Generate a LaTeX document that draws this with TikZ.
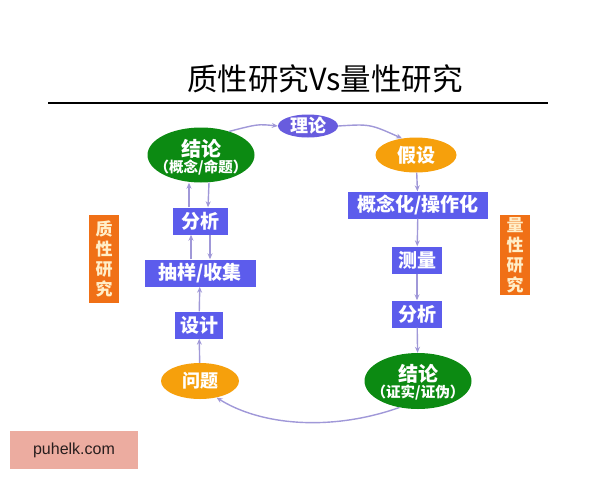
\documentclass[tikz,border=0pt]{standalone}
\usepackage{fontspec}
\newfontfamily\cjk{Noto Sans CJK SC}
\setsansfont{Liberation Sans}
\usetikzlibrary{shapes.geometric,arrows.meta}

\definecolor{conclgreen}{RGB}{12,138,18}
\definecolor{theorypurple}{RGB}{104,92,222}
\definecolor{stepblue}{RGB}{92,92,236}
\definecolor{askorange}{RGB}{246,160,12}
\definecolor{tagorange}{RGB}{240,112,22}
\definecolor{flowline}{RGB}{160,152,216}
\definecolor{marksalmon}{RGB}{236,172,160}

\tikzset{
    flow/.style={draw=flowline, line width=1.4pt, -{Stealth[length=6pt,width=5pt]}},
    stepbox/.style={rectangle, fill=stepblue, text=white, font=\cjk\bfseries\fontsize{19}{22}\selectfont,
        minimum height=27pt, inner xsep=3pt, inner ysep=0pt},
    oval/.style={ellipse, inner sep=0pt, text=white, align=center},
    ovaltext/.style={text=white, align=center, inner sep=0pt},
    tagbox/.style={rectangle, fill=tagorange, text={rgb,255:red,255;green,238;blue,200},
        font=\cjk\bfseries\fontsize{17}{20}\selectfont, align=center, minimum width=30pt, inner sep=0pt}
}

\begin{document}
\begin{tikzpicture}[x=1pt,y=-1pt]
    \useasboundingbox (0,0) rectangle (600,480);

    % Title and rule
    \node (title) at (325,79) {\cjk\fontsize{30.5}{34}\selectfont 质性研究Vs量性研究};
    \draw[line width=1.5pt] (48,103) -- (548,103);

    % Left side (qualitative)
    \node[oval, fill=conclgreen, minimum width=107pt, minimum height=55pt] (concL) at (201,155) {};
    \node[ovaltext] (concLtext) at (201,157)
        {{\cjk\bfseries\fontsize{20}{21}\selectfont 结论}\\{\cjk\bfseries\fontsize{14.5}{16}\selectfont （概念/命题）}};
    \node[stepbox, minimum width=55pt] (anaL) at (200,221) {分析};
    \node[stepbox, minimum width=111pt] (sample) at (200,273) {抽样/收集};
    \node[stepbox, minimum width=48pt] (design) at (199,325) {设计};
    \node[oval, fill=askorange, minimum width=78pt, minimum height=36pt,
        font=\cjk\bfseries\fontsize{18}{20}\selectfont] (ask) at (200,381) {问题};

    % Top
    \node[oval, fill=theorypurple, minimum width=60pt, minimum height=23pt,
        font=\cjk\bfseries\fontsize{18}{20}\selectfont] (theory) at (308,126) {};
    \node[ovaltext, font=\cjk\bfseries\fontsize{18}{20}\selectfont] (theorytext) at (308,126) {理论};

    % Right side (quantitative)
    \node[oval, fill=askorange, minimum width=81pt, minimum height=35pt,
        font=\cjk\bfseries\fontsize{19}{21}\selectfont] (hypo) at (416,155) {假设};
    \node[stepbox, minimum width=140pt] (operate) at (418,205) {概念化/操作化};
    \node[stepbox, minimum width=50pt] (measure) at (417,260) {测量};
    \node[stepbox, minimum width=50pt] (anaR) at (417,314) {分析};
    \node[oval, fill=conclgreen, minimum width=107pt, minimum height=56pt] (concR) at (418,381) {};
    \node[ovaltext] (concRtext) at (418,382)
        {{\cjk\bfseries\fontsize{20}{21}\selectfont 结论}\\{\cjk\bfseries\fontsize{14.5}{16}\selectfont （证实/证伪）}};

    % Side tags
    \node[tagbox, minimum height=88pt] (tagL) at (104,259) {质\\性\\研\\究};
    \node[tagbox, minimum height=80pt] (tagR) at (515,255) {量\\性\\研\\究};

    % Loop arrows
    \draw[flow] (concL.40) .. controls (258,124) .. (theory.west);
    \draw[flow] (theory.east) .. controls (370,124) .. (hypo.130);
    \draw[flow] (hypo) -- (operate);
    \draw[flow] (operate) -- (measure);
    \draw[flow] (measure) -- (anaR);
    \draw[flow] (anaR) -- (concR);
    \draw[flow] (concR.235) .. controls (330,432) and (260,425) .. (ask.-45);
    \draw[flow] (ask) -- (design);
    \draw[flow] (design) -- (sample);

    % Two-way arrows on the left
    \draw[flow] ([xshift=-9pt]sample.north) -- ([xshift=-9pt]anaL.south);
    \draw[flow] ([xshift=10pt]anaL.south) -- ([xshift=10pt]sample.north);
    \draw[flow] ([xshift=-11pt]anaL.north) -- ([xshift=-12pt]concL.south);
    \draw[flow] ([xshift=8pt]concL.south) -- ([xshift=8pt]anaL.north);

    % Watermark
    \node[fill=marksalmon, minimum width=128pt, minimum height=38pt,
        font=\sffamily\fontsize{16}{18}\selectfont, text={rgb,255:red,40;green,30;blue,30}] (mark) at (74,450) {puhelk.com};
\end{tikzpicture}
\end{document}
